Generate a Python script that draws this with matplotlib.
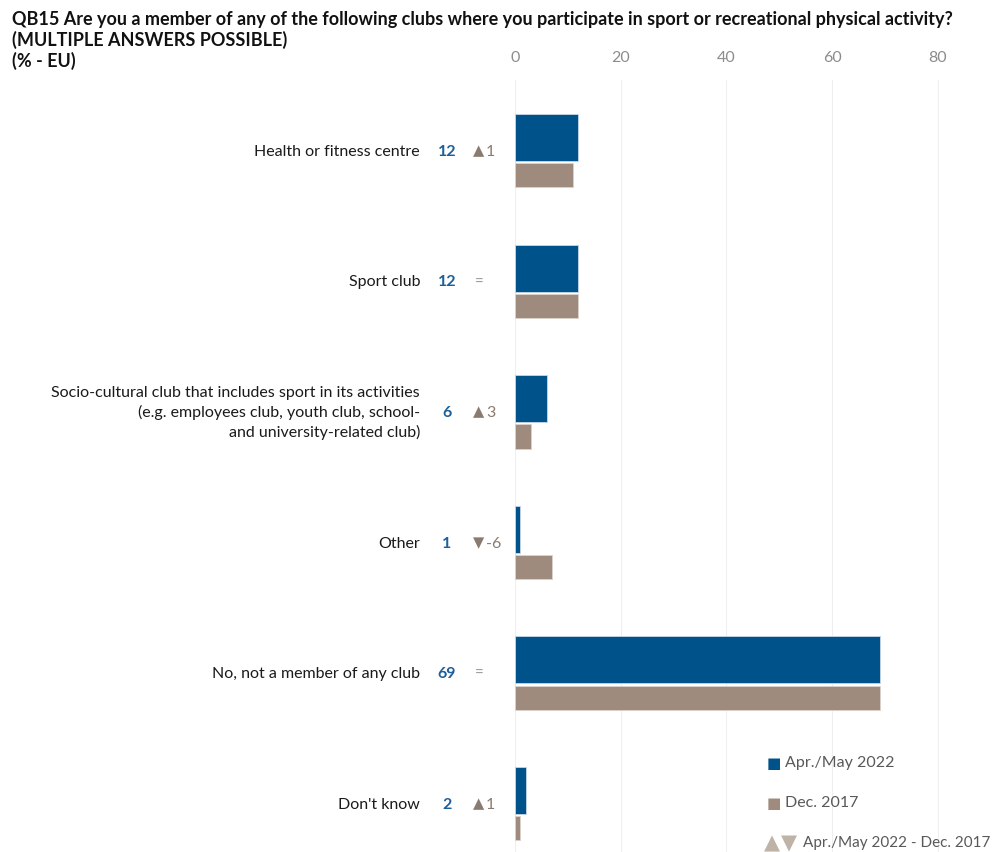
import matplotlib
matplotlib.use('Agg')
import matplotlib.pyplot as plt
import numpy as np

categories = ['Health or fitness centre', 'Sport club',
              'Socio-cultural club that includes sport in its activities\n(e.g. employees club, youth club, school-\nand university-related club)',
              'Other', 'No, not a member of any club', "Don't know"]
apr_2022 = [12, 12, 6, 1, 69, 2]
dec_2017 = [11, 12, 3, 7, 69, 1]
diff_labels = ['1', '=', '3', '-6', '=', '1']
diff_dir = ['up', None, 'up', 'down', None, 'up']
ticks = [0, 20, 40, 60, 80]

BLUE = '#00538A'
BROWN = '#9E8B7E'
VAL_BLUE = '#1D5F9A'
DIFF_COL = '#8A7B70'

plt.rcParams['font.family'] = ['Lato', 'DejaVu Sans']

fig = plt.figure(figsize=(9.97, 8.52), dpi=100)
ax = fig.add_axes([515 / 997, 0, (980 - 515) / 997, 1 - 80 / 852])

y = np.arange(len(categories))
ax.barh(y - 0.10, apr_2022, height=0.36, color=BLUE, edgecolor='#c9d7e6', linewidth=0.6, zorder=3)
ax.barh(y + 0.19, dec_2017, height=0.185, color=BROWN, edgecolor='#dcd3cc', linewidth=0.6, zorder=3)

ax.set_xlim(0, 88)
ax.set_ylim(5 + 0.371, -0.54)
ax.set_xticks(ticks)
ax.xaxis.tick_top()
ax.tick_params(axis='x', length=0, pad=11, labelsize=11.5, labelcolor='#8c8c8c')
ax.set_yticks([])
ax.grid(axis='x', color='#efefef', linewidth=0.8, zorder=0)
for s in ax.spines.values():
    s.set_visible(False)

for i, cat in enumerate(categories):
    ax.text(-17.97, i + 0.01, cat, ha='right', va='center', fontsize=11.5, color='#1a1a1a',
            linespacing=1.4, clip_on=False)
    ax.text(-12.86, i + 0.01, str(apr_2022[i]), ha='center', va='center', fontsize=11.5,
            fontweight='bold', color=VAL_BLUE, clip_on=False)
    if diff_dir[i] is not None:
        sym = '▲' if diff_dir[i] == 'up' else '▼'
        ax.text(-7.9, i, sym, ha='left', va='center', fontsize=10.5, color=DIFF_COL,
                family='DejaVu Sans', clip_on=False)
        ax.text(-5.5, i + 0.01, diff_labels[i], ha='left', va='center', fontsize=11.5,
                color=DIFF_COL, clip_on=False)
    else:
        ax.text(-7.6, i + 0.01, diff_labels[i], ha='left', va='center', fontsize=11,
                color='#9a9a9a', clip_on=False)

title_kw = dict(ha='left', va='center', fontsize=13, fontweight='bold', color='#111111')
fig.text(12 / 997, 1 - 19 / 852,
         'QB15 Are you a member of any of the following clubs where you participate in sport or recreational physical activity?',
         **title_kw)
fig.text(12 / 997, 1 - 40 / 852, '(MULTIPLE ANSWERS POSSIBLE)', **title_kw)
fig.text(12 / 997, 1 - 61 / 852, '(% - EU)', **title_kw)

# legend
fig.text(767 / 997, 1 - 763 / 852, '■', ha='left', va='center', fontsize=11, color=BLUE, family='DejaVu Sans')
fig.text(785 / 997, 1 - 763 / 852, 'Apr./May 2022', ha='left', va='center', fontsize=11.5, color='#595959')
fig.text(767 / 997, 1 - 803 / 852, '■', ha='left', va='center', fontsize=11, color=BROWN, family='DejaVu Sans')
fig.text(785 / 997, 1 - 803 / 852, 'Dec. 2017', ha='left', va='center', fontsize=11.5, color='#595959')
fig.text(764 / 997, 1 - 843 / 852, '▲', ha='left', va='center', fontsize=15, color='#BFB2A6', family='DejaVu Sans')
fig.text(781 / 997, 1 - 843 / 852, '▼', ha='left', va='center', fontsize=15, color='#BFB2A6', family='DejaVu Sans')
fig.text(803 / 997, 1 - 843 / 852, 'Apr./May 2022 - Dec. 2017', ha='left', va='center', fontsize=11, color='#595959')

fig.savefig('out.png', dpi=100)
